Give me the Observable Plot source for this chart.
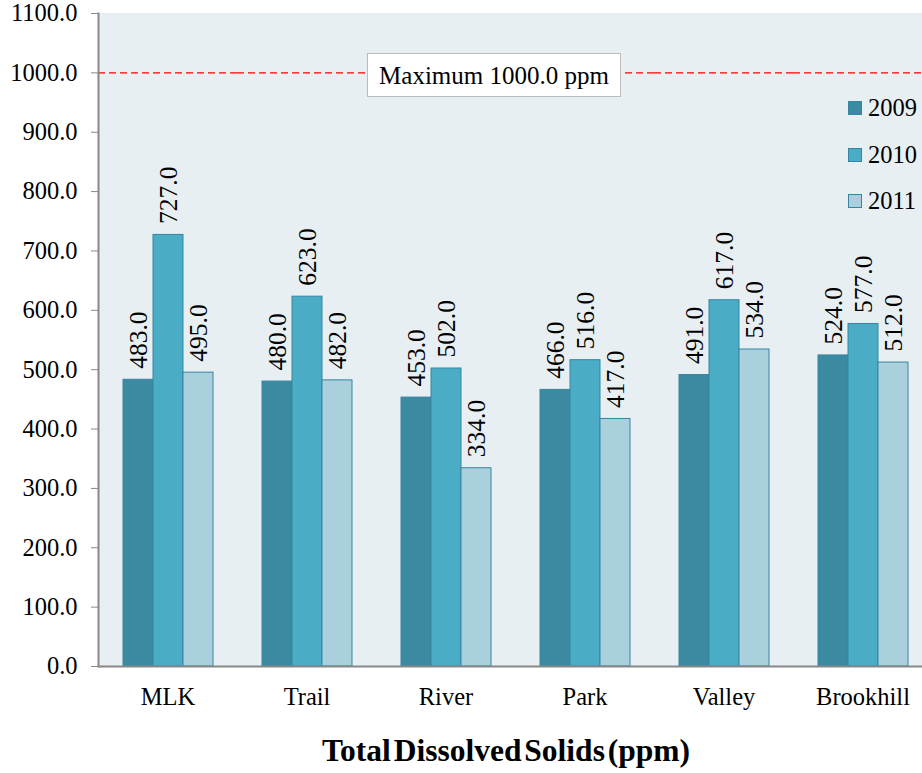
<!DOCTYPE html>
<html>
<head>
<meta charset="utf-8">
<script src="https://cdn.jsdelivr.net/npm/d3@7"></script>
<script src="https://cdn.jsdelivr.net/npm/@observablehq/plot@0.6"></script>
<style>
  html, body { margin: 0; padding: 0; background: #fff; overflow: hidden; }
  #wrap { position: relative; width: 922px; height: 773px; font-family: 'Liberation Serif'; }
  #wrap svg text { font-family: 'Liberation Serif' !important; }
  #note { position: absolute; left: 367px; top: 53px; width: 252px; height: 42px; background: #fff;
          border: 1px solid #bcbcbc; font-family: 'Liberation Serif'; font-size: 25px; line-height: 44px; text-align: center; color: #000; }
  #legend { position: absolute; left: 848px; top: 85px; font-family: 'Liberation Serif'; font-size: 24.5px; color: #000; }
  .item { display: flex; align-items: center; height: 46.5px; }
  .sw { width: 14px; height: 14px; margin-right: 6px; box-sizing: border-box; border: 1px solid #3585a0; }
  #title { position: absolute; left: 90px; right: 0; top: 733px; text-align: center; font-weight: bold;
           font-family: 'Liberation Serif'; font-size: 31.5px; word-spacing: -5px; color: #000; }
</style>
</head>
<body>
<div id="wrap"></div>
<script>
const sites = ["MLK", "Trail", "River", "Park", "Valley", "Brookhill"];
const years = ["2009", "2010", "2011"];
const values2009 = [483, 480, 453, 466, 491, 524];
const values2010 = [727, 623, 502, 516, 617, 577];
const values2011 = [495, 482, 334, 417, 534, 512];
const yTicks = [0, 100, 200, 300, 400, 500, 600, 700, 800, 900, 1000, 1100];
const maxLimit = 1000;
const noteText = "Maximum 1000.0 ppm";
const titleText = "Total Dissolved Solids (ppm)";
const colors = ["#3b8aa1", "#4bacc6", "#aacfdd"];

const series = [values2009, values2010, values2011];
const data = [];
sites.forEach((s, i) => years.forEach((y, j) => data.push({site: s, year: y, value: series[j][i]})));

const chart = Plot.plot({
  width: 922,
  height: 725,
  marginTop: 13,
  marginBottom: 59,
  marginLeft: 98,
  marginRight: -10,
  style: {fontFamily: "Liberation Serif", fontSize: "24.5px", background: "transparent", color: "#000"},
  fx: {domain: sites, padding: 0, label: null, axis: null},
  x: {domain: years, paddingInner: 0, paddingOuter: 0.745, axis: null},
  y: {domain: [0, 1100], axis: null},
  color: {domain: years, range: colors},
  marks: [
    Plot.frame({fill: "#e8eff3", stroke: "#e8eff3", strokeWidth: 1}),
    Plot.ruleY([maxLimit], {stroke: "#ff0000", strokeWidth: 1.3, strokeDasharray: "7,4"}),
    Plot.barY(data, {fx: "site", x: "year", y: "value", fill: "year", stroke: "#3585a0", strokeWidth: 1}),
    Plot.text(data, {fx: "site", x: "year", y: "value", text: d => d.value.toFixed(1), rotate: -90,
      textAnchor: "start", lineAnchor: "middle", dy: -11, fontSize: 25.5, fill: "#000"}),
    Plot.ruleY([0], {stroke: "#888", strokeWidth: 2}),
    Plot.frame({anchor: "left", facetAnchor: "left", stroke: "#888", strokeWidth: 2}),
    Plot.axisY({ticks: yTicks, tickFormat: d3.format(".1f"), tickSize: 7, tickPadding: 14, stroke: "#888", fill: "#000", label: null}),
    Plot.axisFx({anchor: "bottom", tickSize: 0, tickPadding: 21, label: null, fill: "#000"})
  ]
});

const wrap = document.getElementById("wrap");
wrap.appendChild(chart);

const note = document.createElement("div");
note.id = "note";
note.textContent = noteText;
wrap.appendChild(note);

const legend = document.createElement("div");
legend.id = "legend";
years.forEach((y, j) => {
  const it = document.createElement("div");
  it.className = "item";
  const sw = document.createElement("span");
  sw.className = "sw";
  sw.style.background = colors[j];
  const lb = document.createElement("span");
  lb.textContent = y;
  it.appendChild(sw); it.appendChild(lb);
  legend.appendChild(it);
});
wrap.appendChild(legend);

const title = document.createElement("div");
title.id = "title";
title.textContent = titleText;
wrap.appendChild(title);
</script>
</body>
</html>
